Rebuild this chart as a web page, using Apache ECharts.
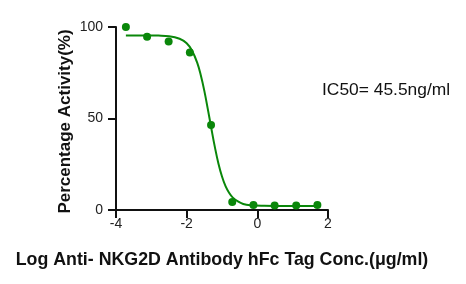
<!DOCTYPE html>
<html>
<head>
<meta charset="utf-8">
<script src="https://cdn.jsdelivr.net/npm/echarts@6/dist/echarts.min.js"></script>
<style>
html,body{margin:0;padding:0;background:#fff;}
#c{width:466px;height:284px;}
</style>
</head>
<body>
<div id="c"></div>
<script>
// Measured data points (log µg/ml, % activity)
var pointX = [-3.72, -3.12, -2.51, -1.91, -1.31, -0.71, -0.11, 0.49, 1.10, 1.70];
var pointY = [100.0, 94.7, 92.1, 86.1, 46.5, 4.4, 2.7, 2.4, 2.4, 2.7];
// Fitted curve
var curveX = [-3.72, -3.2, -2.8, -2.5, -2.2, -2.0, -1.85, -1.7, -1.6, -1.5, -1.4, -1.3, -1.2, -1.1, -1.0, -0.9, -0.8, -0.7, -0.55, -0.4, -0.2, 0.2, 0.8, 1.7];
var curveY = [95.4, 95.4, 95.3, 95.0, 93.6, 91.1, 87.2, 80.4, 73.6, 65.1, 55.0, 44.4, 34.2, 25.3, 18.3, 13.0, 9.4, 6.9, 4.7, 3.3, 2.6, 2.3, 2.2, 2.2];
var xTicks = [-4, -2, 0, 2];
var yTicks = [0, 50, 100];
var xTitle = 'Log Anti- NKG2D Antibody hFc Tag Conc.(\u03bcg/ml)';
var yTitle = 'Percentage Activity(%)';
var annot = 'IC50= 45.5ng/ml';

var FONT = '"Liberation Sans", Arial, sans-serif';
var GREEN = '#0a870a';
var chart = echarts.init(document.getElementById('c'), null, {renderer: 'canvas'});
var pts = pointX.map(function (x, i) { return [x, pointY[i]]; });
var crv = curveX.map(function (x, i) { return [x, curveY[i]]; });
chart.setOption({
  animation: false,
  backgroundColor: '#fff',
  grid: {left: 116, right: 138, top: 27, bottom: 74, containLabel: false},
  xAxis: {
    type: 'value', min: xTicks[0], max: xTicks[xTicks.length - 1], interval: 2,
    name: xTitle, nameLocation: 'middle', nameGap: 41,
    nameTextStyle: {fontFamily: FONT, fontSize: 17.8, fontWeight: 'bold', color: '#111'},
    axisLine: {show: true, onZero: false, lineStyle: {color: '#111', width: 2}},
    axisTick: {show: true, length: 8, lineStyle: {color: '#111', width: 2}},
    axisLabel: {fontFamily: FONT, fontSize: 14, color: '#222', margin: 7},
    splitLine: {show: false}
  },
  yAxis: {
    type: 'value', min: yTicks[0], max: yTicks[yTicks.length - 1], interval: 50,
    name: yTitle, nameLocation: 'middle', nameGap: 42, nameRotate: 90,
    nameTextStyle: {fontFamily: FONT, fontSize: 17, fontWeight: 'bold', color: '#111', padding: [0, 6, 0, 0]},
    axisLine: {show: true, onZero: false, lineStyle: {color: '#111', width: 2}},
    axisTick: {show: true, length: 8, lineStyle: {color: '#111', width: 2}},
    axisLabel: {fontFamily: FONT, fontSize: 14, color: '#222', margin: 13},
    splitLine: {show: false}
  },
  graphic: [{
    type: 'text', left: 322, top: 82,
    style: {text: annot, font: '17.4px ' + FONT, fill: '#111'}
  }],
  series: [{
    type: 'line', data: crv, smooth: 0.4, showSymbol: false, symbol: 'none',
    lineStyle: {color: GREEN, width: 2}, z: 2
  }, {
    type: 'scatter', data: pts, symbolSize: 8,
    itemStyle: {color: GREEN, opacity: 1}, z: 3
  }]
});
</script>
</body>
</html>
